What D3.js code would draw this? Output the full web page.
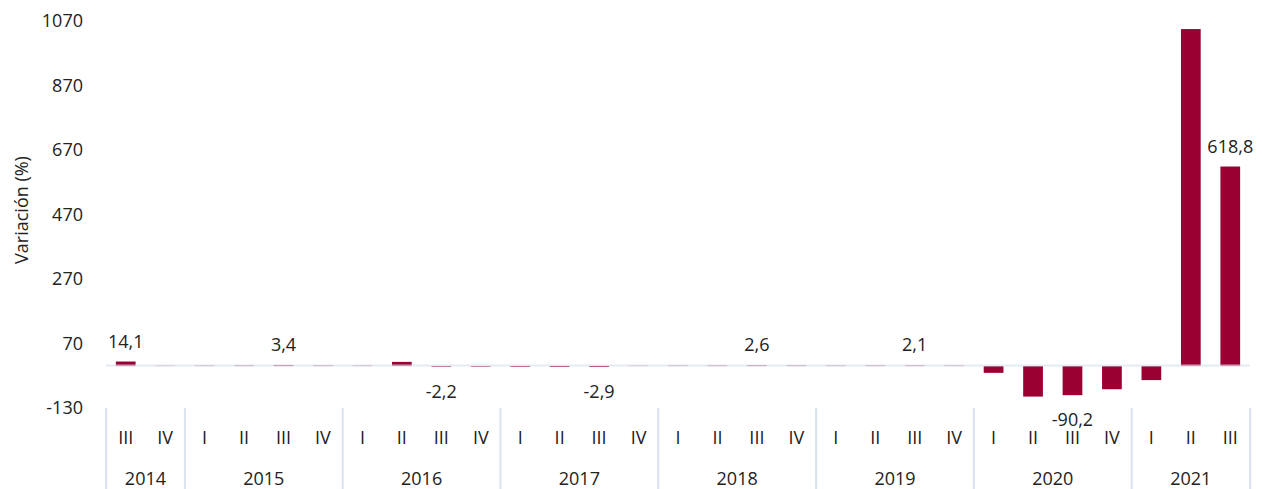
<html>
<head>
<meta charset="utf-8">
<title>Variación trimestral</title>
<style>
  body { margin: 0; background: #fff; }
  svg text { font-family: "Open Sans", "Noto Sans", sans-serif; fill: #222; }
</style>
</head>
<body>
<div id="chart"></div>
<script src="https://cdn.jsdelivr.net/npm/d3@7"></script>
<script>
// periods: each year with its quarters
var years = ["2014", "2015", "2016", "2017", "2018", "2019", "2020", "2021"];
var quartersByYear = [
  ["III", "IV"],
  ["I", "II", "III", "IV"],
  ["I", "II", "III", "IV"],
  ["I", "II", "III", "IV"],
  ["I", "II", "III", "IV"],
  ["I", "II", "III", "IV"],
  ["I", "II", "III", "IV"],
  ["I", "II", "III"]
];
// variación (%) per quarter
var values = [
  14.1, 1.0,
  1.5, 2.0, 3.4, 2.0,
  1.5, 13.0, -2.2, -2.0,
  -2.5, -2.8, -2.9, 1.0,
  1.5, 2.0, 2.6, 2.0,
  1.5, 2.0, 2.1, 1.5,
  -21.0, -94.6, -90.2, -71.8,
  -43.5, 1045.0, 618.8
];
// which bars carry a value label
var labelled = ["2014-III", "2015-III", "2016-III", "2017-III", "2018-III", "2019-III", "2020-III", "2021-III"];
var yTicks = [-130, 70, 270, 470, 670, 870, 1070];

var width = 1263, height = 489;
var plotLeft = 106, plotRight = 1250, plotTop = 21, plotBottom = 408;
var fontSize = 18;

var rows = [];
years.forEach(function (yr, i) {
  quartersByYear[i].forEach(function (q) {
    rows.push({ key: yr + "-" + q, year: yr, q: q });
  });
});
rows.forEach(function (d, i) { d.value = values[i]; });

var svg = d3.select("#chart").append("svg")
  .attr("width", width).attr("height", height);

var x = d3.scaleBand().domain(rows.map(function (d) { return d.key; }))
  .range([plotLeft, plotRight]).paddingInner(0.5).paddingOuter(0.25);
var y = d3.scaleLinear().domain([-130, 1070]).range([plotBottom, plotTop]);

function fmtInt(v) { return String(v); }              // plain hyphen, no thousands sep
function fmt(v) { return v.toFixed(1).replace(".", ","); }

// y axis labels, no lines
var yAxis = svg.append("g")
  .attr("transform", "translate(" + (plotLeft - 23) + ",0)")
  .call(d3.axisLeft(y).tickValues(yTicks).tickSize(0).tickPadding(0).tickFormat(fmtInt));
yAxis.select(".domain").remove();
yAxis.selectAll("text").attr("font-size", fontSize);

svg.append("text")
  .attr("transform", "translate(28,210) rotate(-90)")
  .attr("text-anchor", "middle")
  .attr("font-size", fontSize)
  .text("Variación (%)");

// bars
svg.selectAll("rect.bar").data(rows).enter().append("rect")
  .attr("class", "bar")
  .attr("x", function (d) { return x(d.key); })
  .attr("width", x.bandwidth())
  .attr("y", function (d) { return y(Math.max(0, d.value)); })
  .attr("height", function (d) { return Math.abs(y(d.value) - y(0)); })
  .attr("fill", "#9b0033");

// zero line (drawn over the bars, slightly see-through)
svg.append("line")
  .attr("x1", plotLeft).attr("x2", plotRight)
  .attr("y1", y(0) - 0.5).attr("y2", y(0) - 0.5)
  .attr("stroke", "#d9e2f1").attr("stroke-width", 2)
  .attr("stroke-opacity", 0.7);

// value labels
svg.selectAll("text.val").data(rows.filter(function (d) { return labelled.indexOf(d.key) >= 0; }))
  .enter().append("text")
  .attr("class", "val")
  .attr("text-anchor", "middle")
  .attr("font-size", fontSize)
  .attr("x", function (d) { return x(d.key) + x.bandwidth() / 2; })
  .attr("y", function (d) {
    return d.value >= 0 ? y(d.value) - 14 : y(d.value) + 31;
  })
  .text(function (d) { return fmt(d.value); });

// quarter labels
var xAxis = svg.append("g")
  .attr("transform", "translate(0,444)")
  .call(d3.axisBottom(x).tickSize(0).tickPadding(0)
    .tickFormat(function (k) { return k.split("-")[1]; }));
xAxis.select(".domain").remove();
xAxis.selectAll("text").attr("font-size", fontSize).attr("dy", 0);

// year groups and separators
var step = x.step();
var groups = [];
var idx = 0;
years.forEach(function (yr, i) {
  var n = quartersByYear[i].length;
  groups.push({ year: yr, x0: plotLeft + idx * step, x1: plotLeft + (idx + n) * step });
  idx += n;
});

svg.selectAll("line.sep").data([plotLeft].concat(groups.map(function (g) { return g.x1; })))
  .enter().append("line")
  .attr("class", "sep")
  .attr("x1", function (d) { return d; }).attr("x2", function (d) { return d; })
  .attr("y1", plotBottom).attr("y2", height)
  .attr("stroke", "#d9e2f1").attr("stroke-width", 2);

svg.selectAll("text.year").data(groups).enter().append("text")
  .attr("class", "year")
  .attr("text-anchor", "middle")
  .attr("font-size", fontSize)
  .attr("x", function (d) { return (d.x0 + d.x1) / 2; })
  .attr("y", 485)
  .text(function (d) { return d.year; });
</script>
</body>
</html>
